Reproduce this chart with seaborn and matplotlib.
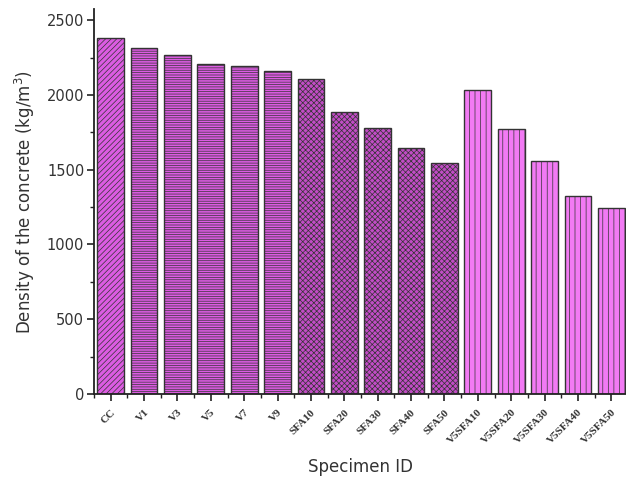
import matplotlib
matplotlib.use("Agg")
import matplotlib.pyplot as plt
import seaborn as sns
import pandas as pd
from matplotlib.ticker import MultipleLocator

specimens = ["CC", "V1", "V3", "V5", "V7", "V9", "SFA10", "SFA20", "SFA30", "SFA40", "SFA50",
             "V5SFA10", "V5SFA20", "V5SFA30", "V5SFA40", "V5SFA50"]
density = [2380, 2311, 2264, 2210, 2195, 2161, 2106, 1885, 1776, 1647, 1546,
           2032, 1771, 1560, 1324, 1241]
groups = ["CC", "V", "V", "V", "V", "V", "SFA", "SFA", "SFA", "SFA", "SFA",
          "V5SFA", "V5SFA", "V5SFA", "V5SFA", "V5SFA"]

fill_colors = {"CC": "#dc5ce2", "V": "#dc5ce2", "SFA": "#c24cc6", "V5SFA": "#f27af4"}
hatches = {"CC": "//////", "V": "-------", "SFA": "xxxxxx", "V5SFA": "|||"}

df = pd.DataFrame({"Specimen": specimens, "Density": density, "Group": groups})

sns.set_style("white")
plt.rcParams["hatch.linewidth"] = 0.5
plt.rcParams["hatch.color"] = "#a044a6"

fig = plt.figure(figsize=(6.26, 4.79), dpi=100)
ax = fig.add_axes([94 / 626, 1 - 394 / 479, (628 - 94) / 626, (394 - 9) / 479])

palette = [fill_colors[g] for g in groups]
sns.barplot(data=df, x="Specimen", y="Density", hue="Specimen", palette=palette,
            legend=False, width=0.8, ax=ax, edgecolor="#333333", linewidth=1.0, saturation=1)

for patch, g in zip(ax.patches, groups):
    patch.set_hatch(hatches[g])

ax.set_ylim(0, 2575)
ax.set_xlim(-0.5, 15.5)
ax.yaxis.set_major_locator(MultipleLocator(500))
ax.yaxis.set_minor_locator(MultipleLocator(250))
ax.xaxis.set_minor_locator(MultipleLocator(0.5))
ax.tick_params(axis="both", which="major", direction="out", length=5, width=1.2, color="#222222",
               bottom=True, left=True)
ax.tick_params(axis="both", which="minor", direction="out", length=3, width=1.0, color="#222222",
               bottom=True, left=True)
ax.tick_params(axis="y", labelsize=10.5, labelcolor="#333333", pad=2)

ax.set_xticks(range(len(specimens)))
ax.set_xticklabels(specimens, rotation=45, ha="right", rotation_mode="anchor",
                   fontsize=8, fontweight="bold", family="Liberation Serif", color="#333333")
ax.tick_params(axis="x", which="major", pad=5)

for s in ["top", "right"]:
    ax.spines[s].set_visible(False)
for s in ["left", "bottom"]:
    ax.spines[s].set_color("#222222")
    ax.spines[s].set_linewidth(1.3)

ax.set_ylabel("Density of the concrete (kg/m$^3$)", fontsize=12, color="#333333", labelpad=7)
ax.set_xlabel("Specimen ID", fontsize=12, color="#333333", labelpad=9)

fig.savefig("out.png", dpi=100)
